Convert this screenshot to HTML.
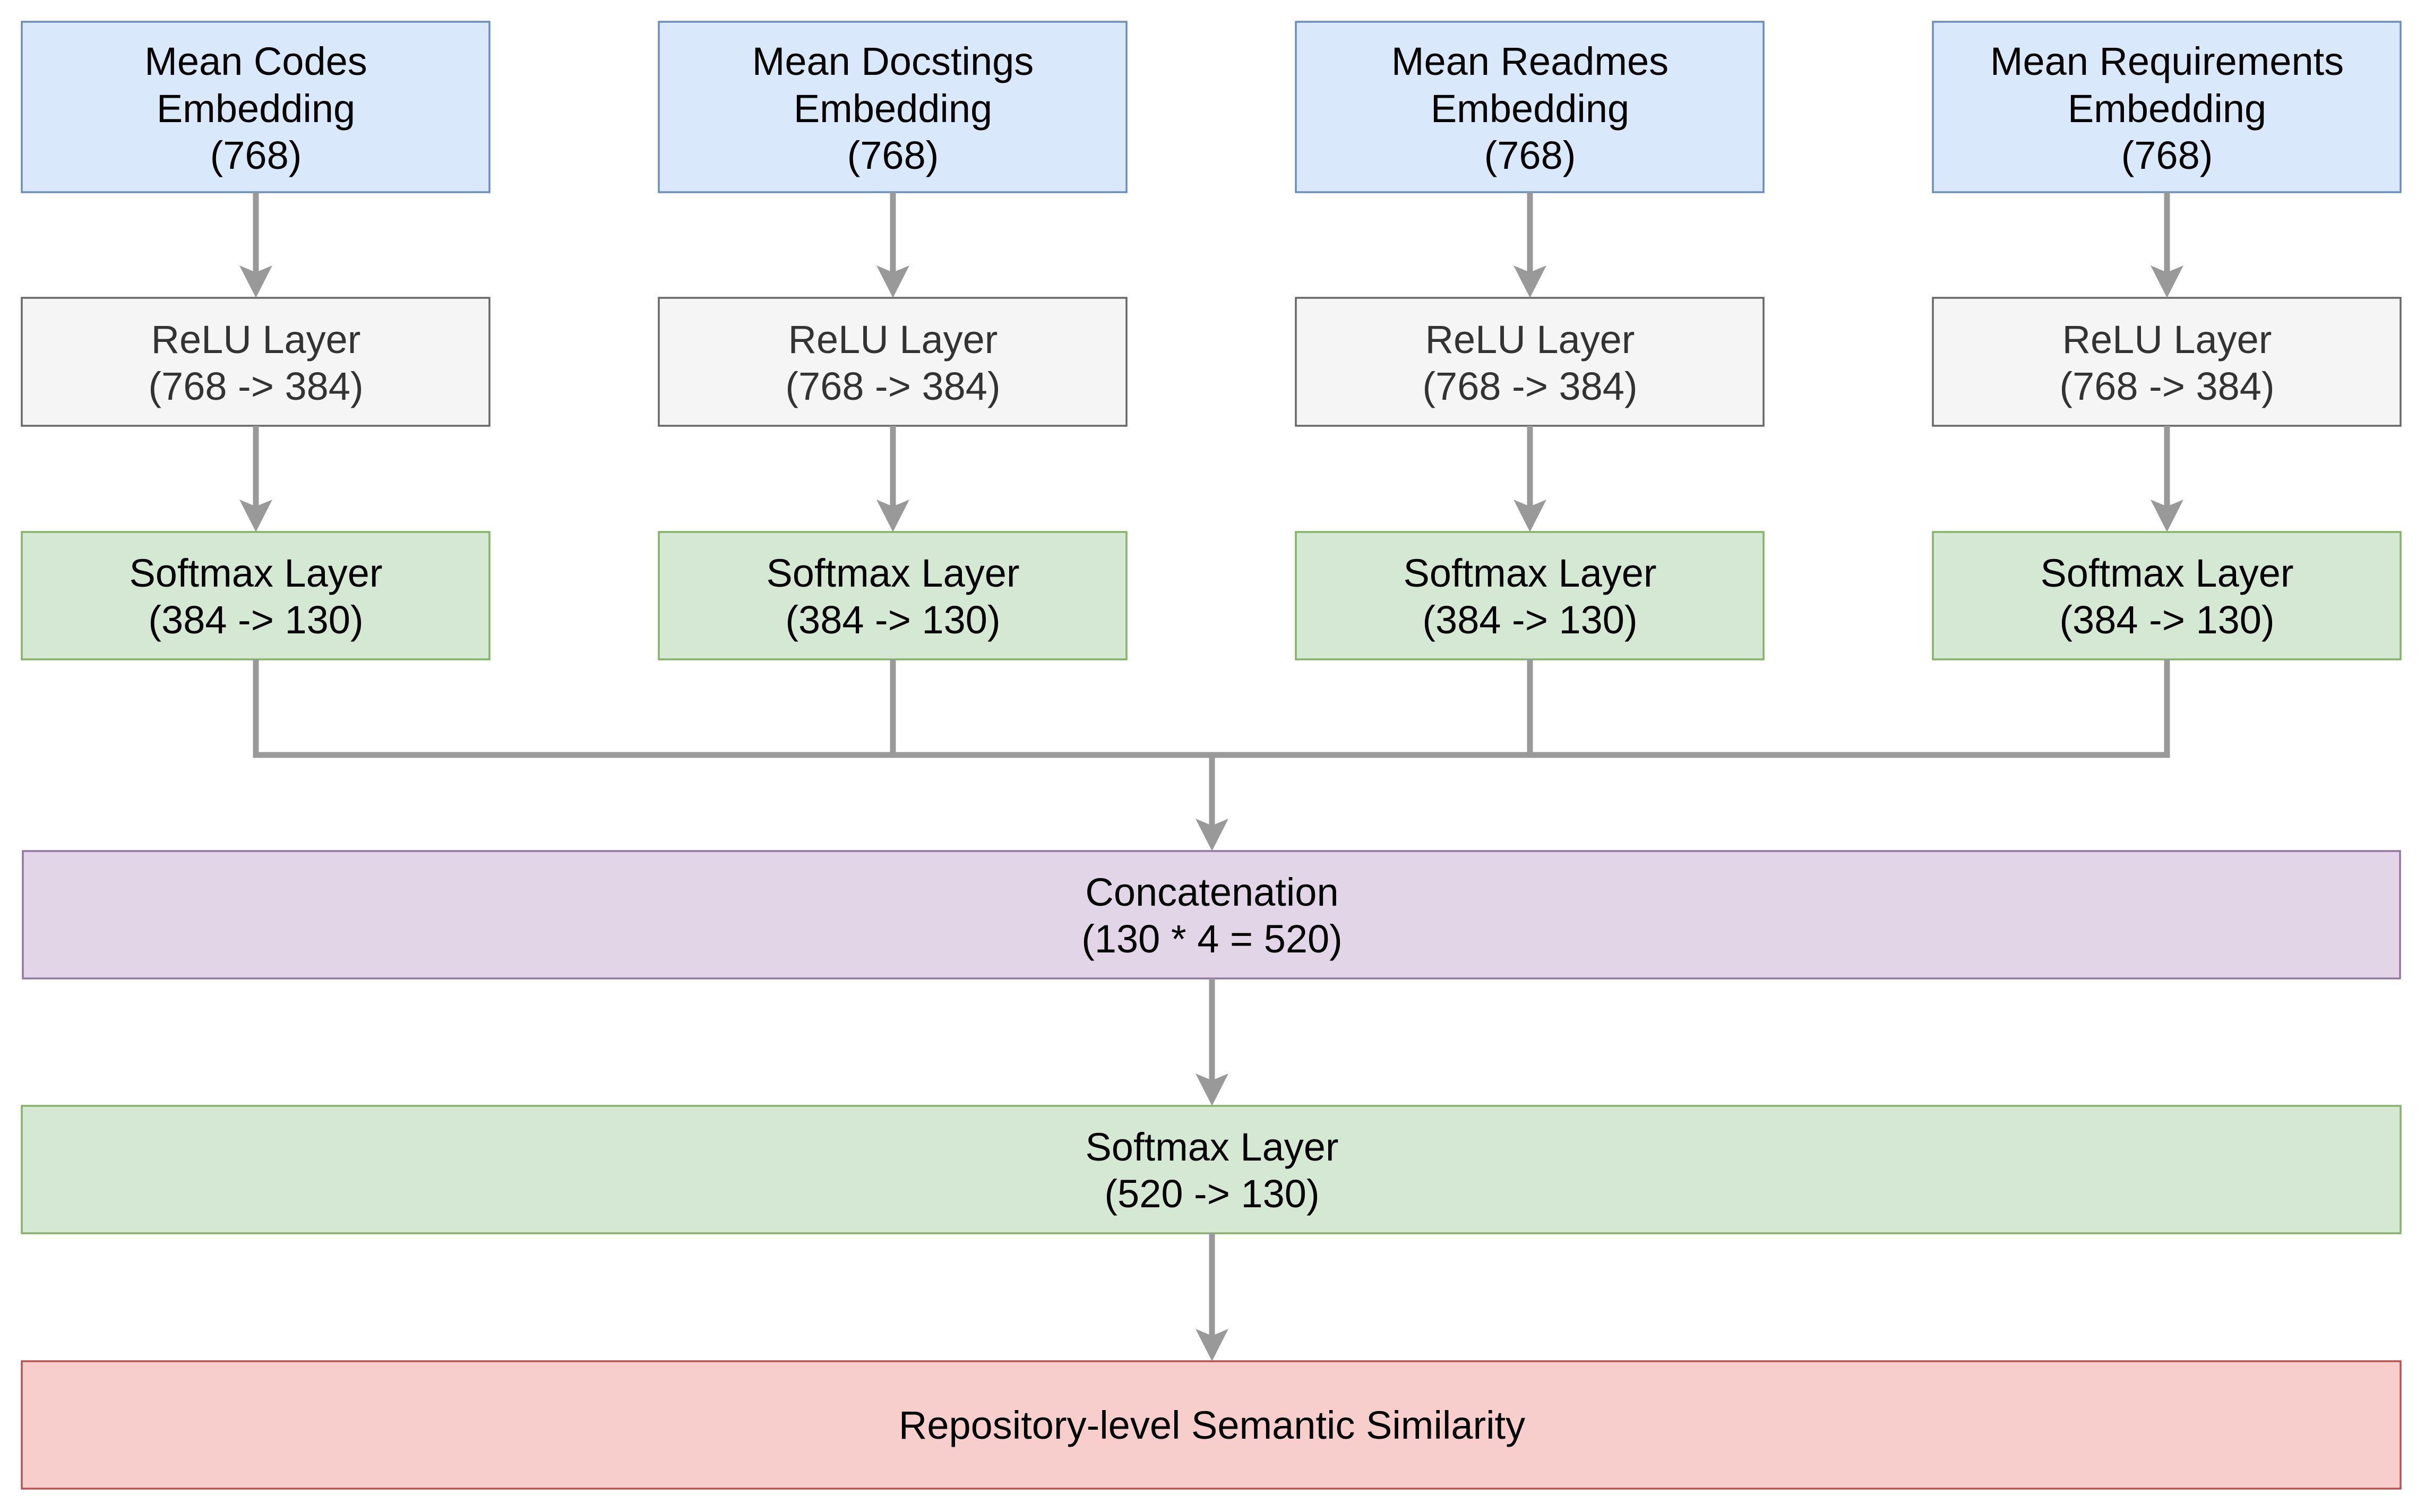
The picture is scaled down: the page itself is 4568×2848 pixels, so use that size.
<!DOCTYPE html>
<html><head><meta charset="utf-8"><style>
html,body{margin:0;padding:0;background:#fff;}
svg{display:block;}
text{font-family:"Liberation Sans",Arial,sans-serif;font-size:74px;text-anchor:middle;}
</style></head><body>
<svg width="4568" height="2848" viewBox="0 0 4568 2848" xmlns="http://www.w3.org/2000/svg">
<defs>
<g id="ah"><path d="M0,0 L-31,-61 L0,-48 L31,-61 Z" fill="#999"/></g>
</defs>
<g stroke-width="3.5">
<!-- row 1 -->
<rect x="41" y="41" width="881" height="321" fill="#dae8fc" stroke="#6c8ebf"/>
<rect x="1241" y="41" width="881" height="321" fill="#dae8fc" stroke="#6c8ebf"/>
<rect x="2441" y="41" width="881" height="321" fill="#dae8fc" stroke="#6c8ebf"/>
<rect x="3641" y="41" width="881" height="321" fill="#dae8fc" stroke="#6c8ebf"/>
<!-- row 2 -->
<rect x="41" y="561" width="881" height="241" fill="#f5f5f5" stroke="#666"/>
<rect x="1241" y="561" width="881" height="241" fill="#f5f5f5" stroke="#666"/>
<rect x="2441" y="561" width="881" height="241" fill="#f5f5f5" stroke="#666"/>
<rect x="3641" y="561" width="881" height="241" fill="#f5f5f5" stroke="#666"/>
<!-- row 3 -->
<rect x="41" y="1002" width="881" height="240" fill="#d5e8d4" stroke="#82b366"/>
<rect x="1241" y="1002" width="881" height="240" fill="#d5e8d4" stroke="#82b366"/>
<rect x="2441" y="1002" width="881" height="240" fill="#d5e8d4" stroke="#82b366"/>
<rect x="3641" y="1002" width="881" height="240" fill="#d5e8d4" stroke="#82b366"/>
<rect x="43" y="1603" width="4478" height="240" fill="#e1d5e7" stroke="#9673a6"/>
<rect x="41" y="2083" width="4481" height="240" fill="#d5e8d4" stroke="#82b366"/>
<rect x="41" y="2564" width="4481" height="240" fill="#f8cecc" stroke="#b85450"/>
</g>
<g stroke="#999" stroke-width="11" fill="none">
<line x1="482" y1="362" x2="482" y2="515"/>
<line x1="1682" y1="362" x2="1682" y2="515"/>
<line x1="2882" y1="362" x2="2882" y2="515"/>
<line x1="4082" y1="362" x2="4082" y2="515"/>
<line x1="482" y1="802" x2="482" y2="955"/>
<line x1="1682" y1="802" x2="1682" y2="955"/>
<line x1="2882" y1="802" x2="2882" y2="955"/>
<line x1="4082" y1="802" x2="4082" y2="955"/>
<polyline points="482,1242 482,1422 4082,1422 4082,1242"/>
<line x1="1682" y1="1242" x2="1682" y2="1422"/>
<line x1="2882" y1="1242" x2="2882" y2="1422"/>
<line x1="2283" y1="1422" x2="2283" y2="1557"/>
<line x1="2283" y1="1843" x2="2283" y2="2037"/>
<line x1="2283" y1="2323" x2="2283" y2="2518"/>
</g>
<use href="#ah" x="482" y="561"/><use href="#ah" x="1682" y="561"/><use href="#ah" x="2882" y="561"/><use href="#ah" x="4082" y="561"/>
<use href="#ah" x="482" y="1002"/><use href="#ah" x="1682" y="1002"/><use href="#ah" x="2882" y="1002"/><use href="#ah" x="4082" y="1002"/>
<use href="#ah" x="2283" y="1603"/><use href="#ah" x="2283" y="2083"/><use href="#ah" x="2283" y="2564"/>

<g fill="#000">
<text x="482" y="141">Mean Codes</text><text x="482" y="230">Embedding</text><text x="482" y="318">(768)</text>
<text x="1682" y="141">Mean Docstings</text><text x="1682" y="230">Embedding</text><text x="1682" y="318">(768)</text>
<text x="2882" y="141">Mean Readmes</text><text x="2882" y="230">Embedding</text><text x="2882" y="318">(768)</text>
<text x="4082" y="141">Mean Requirements</text><text x="4082" y="230">Embedding</text><text x="4082" y="318">(768)</text>
</g>
<g fill="#333">
<text x="482" y="665">ReLU Layer</text><text x="482" y="753">(768 -&gt; 384)</text>
<text x="1682" y="665">ReLU Layer</text><text x="1682" y="753">(768 -&gt; 384)</text>
<text x="2882" y="665">ReLU Layer</text><text x="2882" y="753">(768 -&gt; 384)</text>
<text x="4082" y="665">ReLU Layer</text><text x="4082" y="753">(768 -&gt; 384)</text>
</g>
<g fill="#000">
<text x="482" y="1105">Softmax Layer</text><text x="482" y="1193">(384 -&gt; 130)</text>
<text x="1682" y="1105">Softmax Layer</text><text x="1682" y="1193">(384 -&gt; 130)</text>
<text x="2882" y="1105">Softmax Layer</text><text x="2882" y="1193">(384 -&gt; 130)</text>
<text x="4082" y="1105">Softmax Layer</text><text x="4082" y="1193">(384 -&gt; 130)</text>
<text x="2283" y="1706">Concatenation</text><text x="2283" y="1794">(130 * 4 = 520)</text>
<text x="2283" y="2186">Softmax Layer</text><text x="2283" y="2274">(520 -&gt; 130)</text>
<text x="2283" y="2710">Repository-level Semantic Similarity</text>
</g>
</svg>
</body></html>
